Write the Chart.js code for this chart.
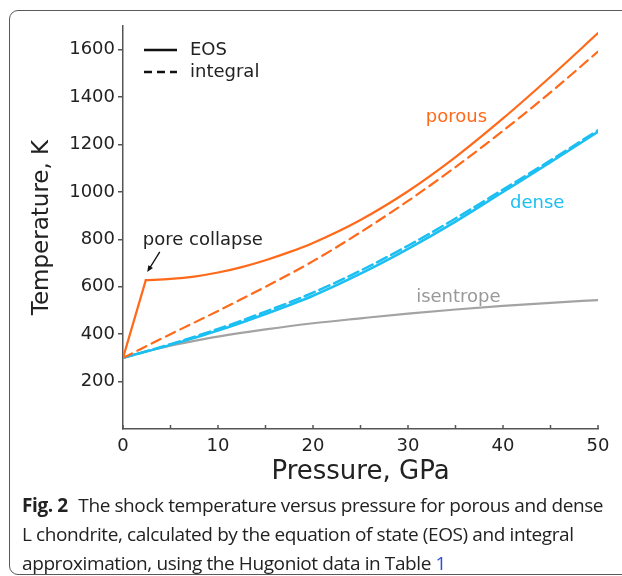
<!DOCTYPE html>
<html>
<head>
<meta charset="utf-8">
<script src="https://cdn.jsdelivr.net/npm/chart.js@4.4.0/dist/chart.umd.min.js"></script>
<style>
  html, body { margin: 0; padding: 0; background: #fff; overflow: hidden; }
  #wrap { position: relative; width: 622px; height: 576px; overflow: hidden; }
  #frame { position: absolute; left: 9px; top: 10px; width: 640px; height: 563px;
           border: 1.5px solid #5a5a5a; border-radius: 9px; }
  #plot { position: absolute; left: 0; top: 0; }
  #caption { position: absolute; left: 22px; top: 491px; font-family: 'Open Sans', sans-serif;
             font-size: 19px; line-height: 29px; color: #222; white-space: nowrap; letter-spacing: -0.4px; }
  #caption b { font-weight: 700; margin-right: 6px; }
  #caption .ref { color: #2b4fd8; }
</style>
</head>
<body>
<div id="wrap">
  <div id="frame"></div>
  <canvas id="plot" width="622" height="492"></canvas>
  <div id="caption">
    <div><b>Fig. 2</b> The shock temperature versus pressure for porous and dense</div>
    <div>L chondrite, calculated by the equation of state (EOS) and integral</div>
    <div>approximation, using the Hugoniot data in Table <span class="ref">1</span></div>
  </div>
</div>
<script>
// Shock temperature (K) against pressure (GPa)
const pressure = [0, 5, 10, 15, 20, 25, 30, 35, 40, 45, 50];

// porous EOS: straight rise up to pore collapse, then the smooth branch
const porousRampP = [0, 2.4];
const porousRampT = [300, 628];
const porousEosP = [2.4, 5, 7.5, 10, 12.5, 15, 17.5, 20, 25, 30, 35, 40, 45, 50];
const porousEosT = [628, 633, 643, 660, 683, 712, 746, 785, 882, 1003, 1147, 1310, 1486, 1670];
const porousIntT = [300, 400, 498, 600, 708, 830, 962, 1105, 1258, 1420, 1592];

const denseEosT = [300, 355, 415, 485, 562, 655, 760, 875, 1000, 1125, 1254];
const denseIntT = [300, 358, 422, 495, 575, 668, 773, 888, 1010, 1133, 1260];

const isentropeP = [0, 2.5, 5, 7.5, 10, 15, 20, 25, 30, 35, 40, 45, 50];
const isentropeT = [300, 328, 352, 372, 390, 420, 446, 467, 487, 504, 519, 532, 544];

const xTickValues = [0, 5, 10, 15, 20, 25, 30, 35, 40, 45, 50];
const xTickLabels = [0, 10, 20, 30, 40, 50];
const yTickValues = [200, 400, 600, 800, 1000, 1200, 1400, 1600];

const ORANGE = '#ff6a1a';
const BLUE = '#1cbff2';
const GREY = '#a3a3a3';
const INK = '#222';
const AXIS = '#555';

Chart.defaults.font.family = "'DejaVu Sans', sans-serif";
Chart.defaults.color = INK;

const toPoints = (xs, ys) => xs.map((x, i) => ({ x: x, y: ys[i] }));

// legend, curve labels and the pore-collapse arrow
const decorations = {
  id: 'decorations',
  afterDraw(chart) {
    const { ctx, scales: { x, y }, chartArea } = chart;
    ctx.save();

    // inward tick marks on the pressure axis
    ctx.strokeStyle = AXIS;
    ctx.lineWidth = 1.5;
    x.ticks.forEach(t => {
      const px = x.getPixelForValue(t.value);
      ctx.beginPath();
      ctx.moveTo(px, chartArea.bottom);
      ctx.lineTo(px, chartArea.bottom - 4);
      ctx.stroke();
    });

    // legend
    const lx = chartArea.left + 21;
    ctx.strokeStyle = '#111';
    ctx.lineWidth = 2.5;
    ctx.beginPath();
    ctx.moveTo(lx, 50); ctx.lineTo(lx + 33, 50);
    ctx.stroke();
    ctx.setLineDash([8, 5]);
    ctx.beginPath();
    ctx.moveTo(lx, 72); ctx.lineTo(lx + 33, 72);
    ctx.stroke();
    ctx.setLineDash([]);
    ctx.font = "18px 'DejaVu Sans'";
    ctx.fillStyle = INK;
    ctx.textBaseline = 'middle';
    ctx.textAlign = 'left';
    ctx.fillText('EOS', lx + 46, 50);
    ctx.fillText('integral', lx + 46, 72);

    // curve labels
    ctx.textAlign = 'center';
    const label = (text, p, t, color) => {
      ctx.fillStyle = color;
      ctx.fillText(text, x.getPixelForValue(p), y.getPixelForValue(t));
    };
    label('porous', 35.1, 1316, ORANGE);
    label('dense', 43.6, 954, BLUE);
    label('isentrope', 35.3, 557, '#999');
    label('pore collapse', 8.4, 797, INK);

    // arrow pointing at the collapse kink
    const x0 = x.getPixelForValue(3.87), y0 = y.getPixelForValue(747);
    const x1 = x.getPixelForValue(2.55), y1 = y.getPixelForValue(662);
    const a = Math.atan2(y1 - y0, x1 - x0);
    ctx.strokeStyle = '#111';
    ctx.fillStyle = '#111';
    ctx.lineWidth = 1.3;
    ctx.beginPath();
    ctx.moveTo(x0, y0); ctx.lineTo(x1 - 4 * Math.cos(a), y1 - 4 * Math.sin(a));
    ctx.stroke();
    ctx.beginPath();
    ctx.moveTo(x1, y1);
    ctx.lineTo(x1 - 7 * Math.cos(a - 0.4), y1 - 7 * Math.sin(a - 0.4));
    ctx.lineTo(x1 - 7 * Math.cos(a + 0.4), y1 - 7 * Math.sin(a + 0.4));
    ctx.closePath();
    ctx.fill();
    ctx.restore();
  }
};

const line = (data, color, width, dash) => ({
  data: data,
  borderColor: color,
  borderWidth: width,
  borderDash: dash || [],
  borderCapStyle: 'round',
  pointRadius: 0,
  fill: false,
  cubicInterpolationMode: 'monotone'
});

new Chart(document.getElementById('plot'), {
  type: 'line',
  data: {
    datasets: [
      line(toPoints(porousRampP, porousRampT), ORANGE, 2.2),
      line(toPoints(porousEosP, porousEosT), ORANGE, 2.2),
      line(toPoints(pressure, porousIntT), ORANGE, 2.2, [10, 6]),
      line(toPoints(pressure, denseEosT), BLUE, 2.5),
      line(toPoints(pressure, denseIntT), BLUE, 2.5, [11, 5]),
      line(toPoints(isentropeP, isentropeT), GREY, 2.2)
    ]
  },
  options: {
    responsive: false,
    animation: false,
    layout: { padding: { left: 24, right: 24, top: 26, bottom: 0 } },
    plugins: { legend: { display: false }, tooltip: { enabled: false } },
    scales: {
      x: {
        type: 'linear',
        min: 0,
        max: 50,
        afterBuildTicks: s => { s.ticks = xTickValues.map(v => ({ value: v })); },
        afterFit: s => { s.height = 63; },
        grid: { drawOnChartArea: false, drawTicks: false },
        border: { color: AXIS, width: 1.5 },
        ticks: {
          font: { size: 18 },
          color: INK,
          padding: 7,
          maxRotation: 0,
          callback: v => (xTickLabels.includes(v) ? String(v) : '')
        },
        title: { display: true, text: 'Pressure, GPa', font: { size: 26 }, color: INK, padding: { top: 0, bottom: 4 } }
      },
      y: {
        min: 0,
        max: 1700,
        afterBuildTicks: s => { s.ticks = yTickValues.map(v => ({ value: v })); },
        afterFit: s => { s.width = 99; },
        grid: { drawOnChartArea: false, drawTicks: true, tickLength: 5, color: AXIS, lineWidth: 1.5 },
        border: { color: AXIS, width: 1.5 },
        ticks: { font: { size: 18 }, color: INK, padding: 3, callback: v => String(v) },
        title: { display: true, text: 'Temperature, K', font: { size: 23 }, color: INK, padding: { top: 4, bottom: 0 } }
      }
    }
  },
  plugins: [decorations]
});
</script>
</body>
</html>
